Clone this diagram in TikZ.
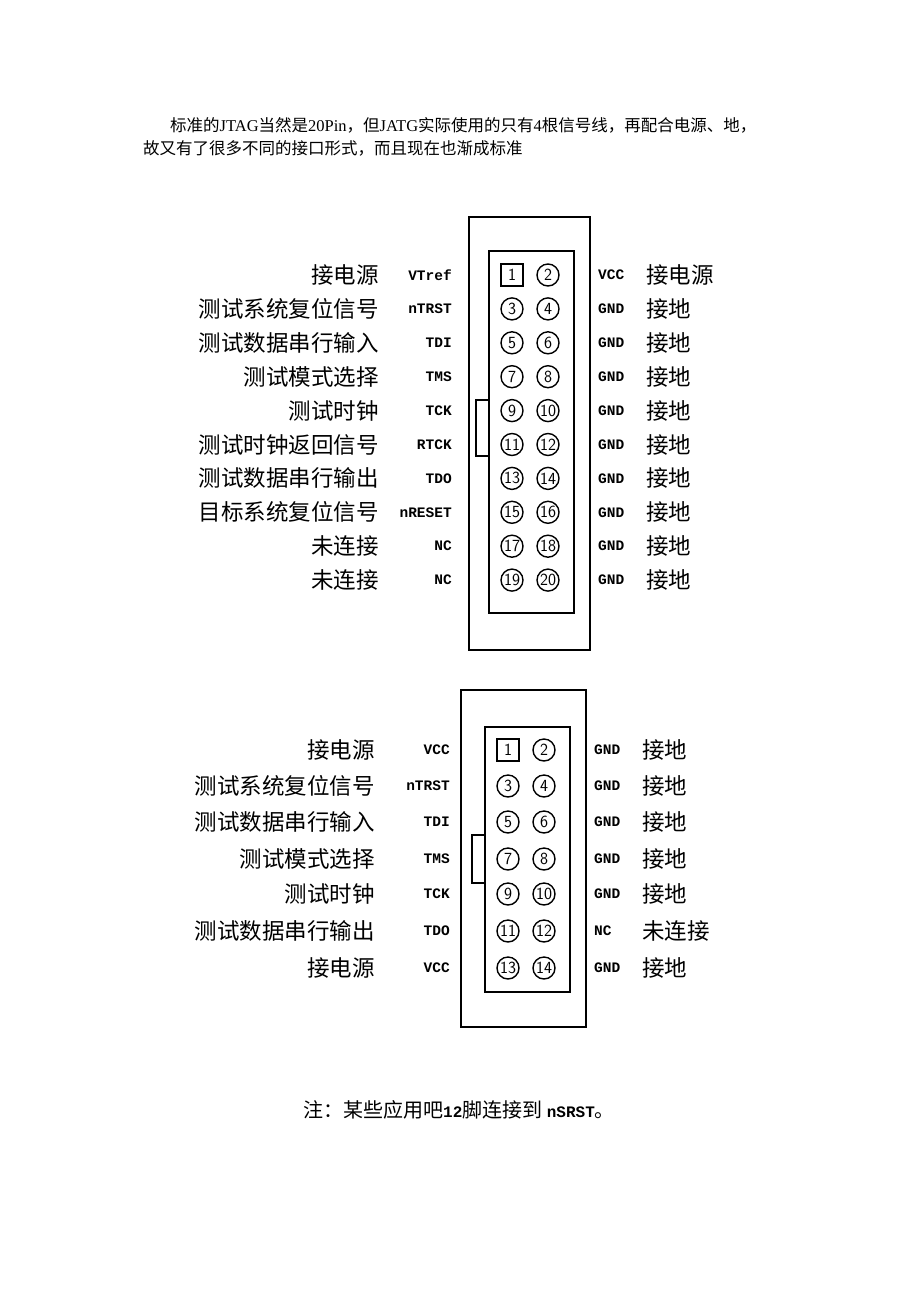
\documentclass[tikz,border=0pt]{standalone}
\usepackage{fontspec}
\setmainfont{Liberation Serif}
\setmonofont{Liberation Mono}
\newfontfamily\cjk{Noto Sans CJK SC}
\usetikzlibrary{positioning}

\tikzset{
  sig/.style={anchor=east,inner sep=0pt,font=\ttfamily\bfseries\fontsize{14.5}{14.5}\selectfont},
  rsig/.style={anchor=west,inner sep=0pt,font=\ttfamily\bfseries\fontsize{14.5}{14.5}\selectfont},
  cn/.style={inner sep=0pt,font=\cjk\fontsize{22.5}{22.5}\selectfont},
  pin/.style={circle,draw,line width=1.4pt,minimum size=22pt,inner sep=0pt,font=\sffamily\fontsize{17}{17}\selectfont},
  pinone/.style={rectangle,draw,line width=1.4pt,minimum size=22pt,inner sep=0pt,font=\sffamily\fontsize{17}{17}\selectfont},
  body/.style={draw,line width=1.3pt}
}

\begin{document}
\begin{tikzpicture}[x=1pt,y=1pt,yscale=-1]
\useasboundingbox (0,0) rectangle (920,1302);

% Intro text
\node (intro1) [anchor=west,inner sep=0pt,font=\fontsize{16.5}{16.5}\selectfont] at (170,125) {{\cjk 标准的}JTAG{\cjk 当然是}20Pin{\cjk ，但}JATG{\cjk 实际使用的只有}4{\cjk 根信号线，再配合电源、地，}};
\node (intro2) [anchor=west,inner sep=0pt,font=\fontsize{16.5}{16.5}\selectfont] at (143,148) {\cjk 故又有了很多不同的接口形式，而且现在也渐成标准};

% 20-pin connector
\draw[body] (469,217) rectangle (590,650);
\draw[body] (489,251) rectangle (574,613);
\draw[body] (476,400) rectangle (489,456);
\foreach \i/\sig/\lab/\rs/\rlab [count=\r from 0] in {
  1/VTref/接电源/VCC/接电源,
  3/nTRST/测试系统复位信号/GND/接地,
  5/TDI/测试数据串行输入/GND/接地,
  7/TMS/测试模式选择/GND/接地,
  9/TCK/测试时钟/GND/接地,
  11/RTCK/测试时钟返回信号/GND/接地,
  13/TDO/测试数据串行输出/GND/接地,
  15/nRESET/目标系统复位信号/GND/接地,
  17/NC/未连接/GND/接地,
  19/NC/未连接/GND/接地}{
  \pgfmathsetmacro{\yy}{275+33.9*\r}
  \pgfmathtruncatemacro{\j}{\i+1}
  \ifnum\i=1
    \node (ta\i) [pinone] at (512,\yy) {\i};
  \else
    \node (ta\i) [pin] at (512,\yy) {\i};
  \fi
  \node (ta\j) [pin] at (548,\yy) {\j};
  \node (ts\i) [sig] at (452,\yy) {\sig};
  \node (tc\i) [cn,anchor=east] at (379,\yy) {\lab};
  \node (ts\j) [rsig] at (598,\yy) {\rs};
  \node (tc\j) [cn,anchor=west] at (646,\yy) {\rlab};
}

% 14-pin connector
\draw[body] (461,690) rectangle (586,1027);
\draw[body] (485,727) rectangle (570,992);
\draw[body] (472,835) rectangle (485,883);
\foreach \i/\sig/\lab/\rs/\rlab/\yy in {
  1/VCC/接电源/GND/接地/750,
  3/nTRST/测试系统复位信号/GND/接地/786,
  5/TDI/测试数据串行输入/GND/接地/822,
  7/TMS/测试模式选择/GND/接地/859,
  9/TCK/测试时钟/GND/接地/894,
  11/TDO/测试数据串行输出/NC/未连接/931,
  13/VCC/接电源/GND/接地/968}{
  \pgfmathtruncatemacro{\j}{\i+1}
  \ifnum\i=1
    \node (ba\i) [pinone] at (508,\yy) {\i};
  \else
    \node (ba\i) [pin] at (508,\yy) {\i};
  \fi
  \node (ba\j) [pin] at (544,\yy) {\j};
  \node (bs\i) [sig] at (450,\yy) {\sig};
  \node (bc\i) [cn,anchor=east] at (375,\yy) {\lab};
  \node (bs\j) [rsig] at (594,\yy) {\rs};
  \node (bc\j) [cn,anchor=west] at (642,\yy) {\rlab};
}

% Note
\node (note) [anchor=west,inner sep=0pt] at (303,1110) {{\cjk\fontsize{20}{20}\selectfont 注：某些应用吧}{\ttfamily\bfseries\fontsize{16}{16}\selectfont 12}{\cjk\fontsize{20}{20}\selectfont 脚连接到 }{\ttfamily\bfseries\fontsize{16}{16}\selectfont nSRST}{\cjk\fontsize{20}{20}\selectfont 。}};
\end{tikzpicture}
\end{document}
